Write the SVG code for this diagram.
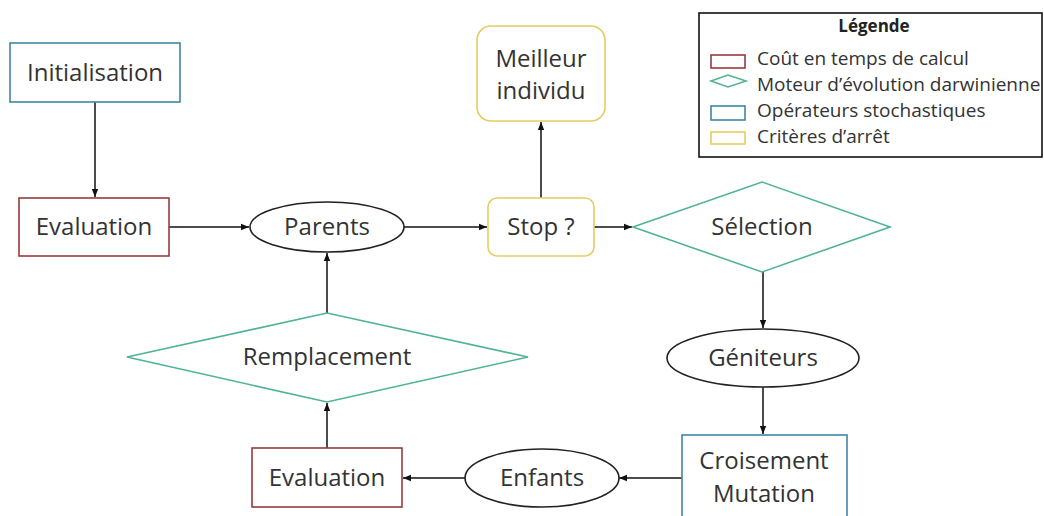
<svg xmlns="http://www.w3.org/2000/svg" width="1044" height="516" viewBox="0 0 1044 516">
<defs>
<style>
.t{font-family:"Open Sans","Liberation Sans",sans-serif;font-size:24px;fill:#333;text-anchor:middle}
.lg{font-family:"Open Sans","Liberation Sans",sans-serif;font-size:19px;fill:#333}
.red{fill:#fff;stroke:#9a3a3e;stroke-width:1.6}
.blue{fill:#fff;stroke:#3f87a3;stroke-width:1.6}
.green{fill:#fff;stroke:#4fb396;stroke-width:1.6}
.yel{fill:#fff;stroke:#e6cc62;stroke-width:1.6}
.ell{fill:#fff;stroke:#222;stroke-width:1.6}
.c{fill:none;stroke:#111;stroke-width:1.5;marker-end:url(#ah)}
</style>
<marker id="ah" viewBox="0 0 10 10" refX="10" refY="5" markerWidth="8" markerHeight="8" markerUnits="userSpaceOnUse" orient="auto">
<path d="M0,1 L10,5 L0,9 z" fill="#111"/>
</marker>
</defs>
<rect width="1044" height="516" fill="#fff"/>

<g id="connectors">
<line class="c" x1="95" y1="102" x2="95" y2="197"/>
<line class="c" x1="169" y1="227" x2="249" y2="227"/>
<line class="c" x1="404" y1="227" x2="487" y2="227"/>
<line class="c" x1="541" y1="198" x2="541" y2="122"/>
<line class="c" x1="594" y1="227" x2="632" y2="227"/>
<line class="c" x1="763" y1="272" x2="763" y2="328"/>
<line class="c" x1="763" y1="387" x2="763" y2="434"/>
<line class="c" x1="682" y1="478" x2="619" y2="478"/>
<line class="c" x1="465" y1="478" x2="403" y2="478"/>
<line class="c" x1="327" y1="448" x2="327" y2="403"/>
<line class="c" x1="327" y1="313" x2="327" y2="253"/>
</g>

<g id="initialisation">
<rect class="blue" x="10" y="43" width="170" height="59"/>
<text class="t" x="95" y="81">Initialisation</text>
</g>
<g id="evaluation1">
<rect class="red" x="19" y="198" width="150" height="58"/>
<text class="t" x="94" y="235">Evaluation</text>
</g>
<g id="parents">
<ellipse class="ell" cx="327" cy="227" rx="77" ry="25"/>
<text class="t" x="327" y="235">Parents</text>
</g>
<g id="stop">
<rect class="yel" x="488" y="198" width="106" height="58" rx="9"/>
<text class="t" x="541" y="235">Stop ?</text>
</g>
<g id="meilleur">
<rect class="yel" x="477" y="26" width="128" height="95" rx="14"/>
<text class="t" x="541" y="67">Meilleur</text>
<text class="t" x="541" y="99">individu</text>
</g>
<g id="selection">
<polygon class="green" points="633,227 762,182 890,227 762,272"/>
<text class="t" x="762" y="235">Sélection</text>
</g>
<g id="geniteurs">
<ellipse class="ell" cx="763" cy="358" rx="96" ry="29"/>
<text class="t" x="763" y="366">Géniteurs</text>
</g>
<g id="croisement">
<rect class="blue" x="682" y="435" width="165" height="90"/>
<text class="t" x="764" y="469">Croisement</text>
<text class="t" x="764" y="502">Mutation</text>
</g>
<g id="enfants">
<ellipse class="ell" cx="542" cy="478" rx="77" ry="29"/>
<text class="t" x="542" y="486">Enfants</text>
</g>
<g id="evaluation2">
<rect class="red" x="252" y="448" width="150" height="59"/>
<text class="t" x="327" y="486">Evaluation</text>
</g>
<g id="remplacement">
<polygon class="green" points="127,357 327,313 528,357 327,402"/>
<text class="t" x="327" y="365">Remplacement</text>
</g>

<g id="legende">
<rect x="699" y="13" width="343" height="144" fill="#fff" stroke="#111" stroke-width="1.6"/>
<text x="874" y="32" style="font-family:'Open Sans','Liberation Sans',sans-serif;font-size:17px;font-weight:bold;fill:#222;text-anchor:middle">Légende</text>
<rect class="red" x="711" y="55" width="34" height="13"/>
<text class="lg" x="757" y="65">Coût en temps de calcul</text>
<polygon class="green" points="711,81 728,75 746,81 728,87"/>
<text class="lg" x="757" y="91">Moteur d’évolution darwinienne</text>
<rect class="blue" x="711" y="106" width="34" height="14"/>
<text class="lg" x="757" y="117">Opérateurs stochastiques</text>
<rect class="yel" x="711" y="132" width="34" height="12"/>
<text class="lg" x="757" y="143">Critères d’arrêt</text>
</g>
</svg>
